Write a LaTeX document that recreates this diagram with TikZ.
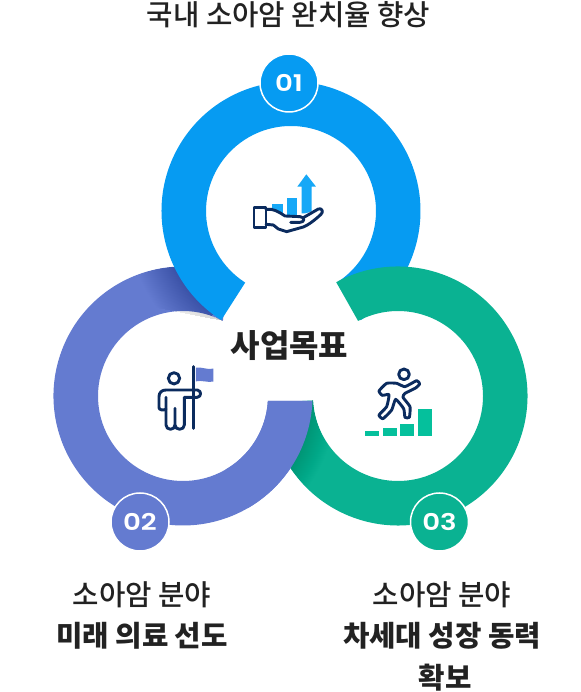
\documentclass[tikz,border=0pt]{standalone}
\usepackage{fontspec}
\setmainfont{Noto Sans CJK KR}
\newfontfamily\krm{Noto Sans CJK KR Medium}
\newfontfamily\numf{Poppins SemiBold}[FakeStretch=1.2]
\definecolor{cblue}{HTML}{069BF2}
\definecolor{cpurple}{HTML}{647BD0}
\definecolor{cgreen}{HTML}{0AB292}
\definecolor{navy}{HTML}{0B2B5E}
\definecolor{lblue}{HTML}{16A8F7}
\definecolor{lgreen}{HTML}{05C09C}
\definecolor{ink}{HTML}{222222}
\newcommand{\sectorpath}[3]{(#1:129.5pt) arc[start angle=#1,end angle=#2,radius=129.5pt] -- (#3:85pt) arc[start angle=#3,end angle=#1,radius=85pt] -- cycle}
\tikzset{
  x=1pt,y=1pt,
  badge/.style={circle,draw=white,line width=1.5pt,minimum size=58pt,inner sep=0pt,text=white,font=\numf\fontsize{23}{23}\selectfont},
  captext/.style={text=ink,font=\krm\fontsize{28.7}{29}\selectfont,inner sep=0pt,anchor=center},
  capbold/.style={text=ink,font=\bfseries\fontsize{28.7}{29}\selectfont,inner sep=0pt,anchor=center},
  iconline/.style={draw=navy,line width=2.9pt,line join=round,line cap=round},
  iconscale/.style={x=0.3333pt,y=-0.3333pt}
}
\begin{document}
\begin{tikzpicture}
\useasboundingbox (0,0) rectangle (580,692);
\fill[white] (0,0) rectangle (580,692);
\coordinate (cb) at (291,481);
\coordinate (cp) at (183,296);
\coordinate (cg) at (398,296);
% purple ring
\begin{scope}[shift={(cp)}]
  \fill[cpurple] (70:129.5pt) arc[start angle=70,end angle=357.8,radius=129.5pt] -- (356.63:85pt) arc[start angle=356.63,end angle=62,radius=85pt] -- cycle;
\end{scope}
% shadow of the blue ring on the purple ring
\begin{scope}
  \begin{scope}[shift={(cp)}]
    \clip \sectorpath{70}{130}{62};
    \foreach \k in {1,...,40}{
      \fill[black,opacity=0.0045] (291-183,481-296) circle[radius=129.5+0.9*\k];
    }
  \end{scope}
\end{scope}
% blue ring
\begin{scope}[shift={(cb)}]
  \fill[cblue] \sectorpath{237.4}{-57.4}{-57.4};
\end{scope}
% green ring
\begin{scope}[shift={(cg)}]
  \fill[cgreen] (118.5:129.5pt) arc[start angle=118.5,end angle=-177,radius=129.5pt] -- (-177:85pt) arc[start angle=-177,end angle=118,radius=85pt] -- cycle;
  % shadow of the purple ring on the green ring
  \begin{scope}
    \clip \sectorpath{-100}{-177}{-177};
    \foreach \k in {1,...,28}{
      \fill[black,opacity=0.0055] (183-398,0) circle[radius=129.5+0.9*\k];
    }
  \end{scope}
\end{scope}
% purple end above the green ring
\begin{scope}[shift={(cp)}]
  \fill[cpurple] \sectorpath{300}{357.8}{356.63};
\end{scope}
% badges
\node[badge,fill=cblue] (b1) at (289,609) {01};
\node[badge,fill=cpurple] (b2) at (140,170) {02};
\node[badge,fill=cgreen] (b3) at (439.5,170) {03};
% texts
\node[captext] (t0) at (288.5,677) {국내 소아암 완치율 향상};
\node[capbold,font=\bfseries\fontsize{32}{32}\selectfont] (t1) at (289.5,346) {사업목표};
\node[captext] (t2) at (142,97) {소아암 분야};
\node[capbold] (t3) at (142,56.5) {미래 의료 선도};
\node[captext] (t4) at (442,97) {소아암 분야};
\node[capbold] (t5) at (442,56.5) {차세대 성장 동력};
\node[capbold] (t6) at (445,14.5) {확보};
% hand icon
\begin{scope}[shift={(240,527)},iconscale]
  \fill[lblue] (97,116) rectangle (128,150);
  \fill[lblue] (142,100) rectangle (170,150);
  \fill[lblue] (185,145) -- (185,65) -- (172,65) -- (199,28) -- (228,65) -- (215,65) -- (215,145) -- cycle;
  \fill[white] (80,130) -- (110,135) -- (140,155) -- (185,150) -- (240,130) -- (248,145) -- (190,185) -- (140,200) -- (80,178) -- cycle;
  \draw[iconline] (42,128) rectangle (78,188);
  \draw[iconline] (78,133) .. controls (100,130) and (115,140) .. (135,153) -- (180,155) .. controls (195,156) and (195,172) .. (180,172) -- (152,172);
  \draw[iconline] (190,158) -- (235,132) .. controls (245,128) and (252,140) .. (243,148) .. controls (225,165) and (205,180) .. (190,186) -- (140,200) -- (115,192) -- (100,180) -- (78,178);
\end{scope}
% flag icon
\begin{scope}[shift={(150,332)},iconscale]
  \fill[cpurple] (138,23) .. controls (155,20) and (170,30) .. (190,26) -- (190,65) .. controls (170,68) and (155,60) .. (138,64) -- cycle;
  \draw[iconline] (131,20) -- (131,205);
  \draw[iconline] (72,55) circle[radius=17];
  \draw[iconline] (131,90) -- (48,90) .. controls (35,90) and (27,98) .. (27,110) -- (27,143) .. controls (27,150) and (40,152) .. (48,148);
  \draw[iconline] (131,90) -- (142,90) .. controls (155,92) and (155,110) .. (142,112) -- (103,112) -- (103,195) .. controls (103,212) and (75,212) .. (75,195) -- (75,145);
  \draw[iconline] (48,112) -- (48,195) .. controls (48,212) and (75,212) .. (75,195);
\end{scope}
% runner icon
\begin{scope}[shift={(355,332)},iconscale]
  \fill[lgreen] (30,213) rectangle (72,228);
  \fill[lgreen] (83,203) rectangle (125,228);
  \fill[lgreen] (136,193) rectangle (178,228);
  \fill[lgreen] (189,148) rectangle (231,228);
  \draw[iconline] (147,43) circle[radius=16];
  \draw[iconline] plot[smooth cycle,tension=0.3] coordinates {(72,93) (95,70) (125,70) (150,80) (185,62) (194,72) (182,84) (150,100) (144,112) (165,140) (163,172) (150,172) (146,146) (122,118) (110,150) (84,176) (72,165) (95,140) (102,104) (82,106)};
\end{scope}
\end{tikzpicture}
\end{document}
